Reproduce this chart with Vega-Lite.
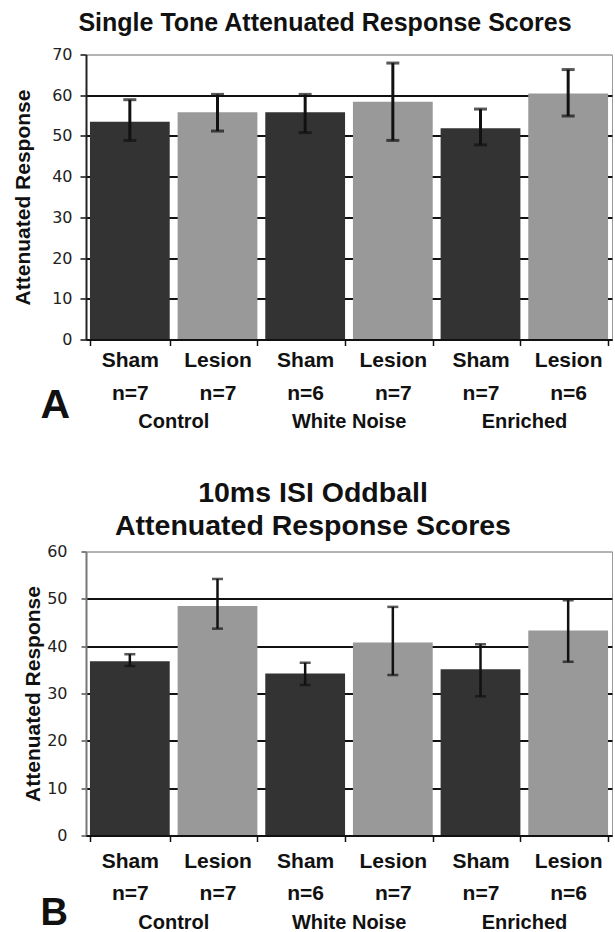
{
  "$schema": "https://vega.github.io/schema/vega-lite/v6.json",
  "padding": {"left": 12, "top": 10.5, "right": 0, "bottom": 0},
  "background": "white",
  "config": {
    "view": {"stroke": "#9a9a9a", "strokeWidth": 1},
    "font": "Liberation Sans"
  },
  "datasets": {
    "a": [
      {"bar": "Control|Sham|n=7", "cond": "Sham", "mean": 53.5, "lo": 48.9, "hi": 58.9},
      {"bar": "Control|Lesion|n=7", "cond": "Lesion", "mean": 55.8, "lo": 51.2, "hi": 60.2},
      {"bar": "White Noise|Sham|n=6", "cond": "Sham", "mean": 55.8, "lo": 50.8, "hi": 60.2},
      {"bar": "White Noise|Lesion|n=7", "cond": "Lesion", "mean": 58.4, "lo": 48.9, "hi": 67.9},
      {"bar": "Enriched|Sham|n=7", "cond": "Sham", "mean": 51.9, "lo": 47.8, "hi": 56.6},
      {"bar": "Enriched|Lesion|n=6", "cond": "Lesion", "mean": 60.4, "lo": 54.9, "hi": 66.3}
    ],
    "b": [
      {"bar": "Control|Sham|n=7", "cond": "Sham", "mean": 36.8, "lo": 35.8, "hi": 38.3},
      {"bar": "Control|Lesion|n=7", "cond": "Lesion", "mean": 48.5, "lo": 43.7, "hi": 54.2},
      {"bar": "White Noise|Sham|n=6", "cond": "Sham", "mean": 34.2, "lo": 31.8, "hi": 36.5},
      {"bar": "White Noise|Lesion|n=7", "cond": "Lesion", "mean": 40.8, "lo": 33.9, "hi": 48.3},
      {"bar": "Enriched|Sham|n=7", "cond": "Sham", "mean": 35.1, "lo": 29.4, "hi": 40.4},
      {"bar": "Enriched|Lesion|n=6", "cond": "Lesion", "mean": 43.3, "lo": 36.7, "hi": 49.7}
    ]
  },
  "spacing": 46,
  "vconcat": [
    {
      "title": {"text": "Single Tone Attenuated Response Scores", "fontSize": 25, "fontWeight": "bold", "color": "#111", "anchor": "middle", "dx": -24, "offset": 10.5},
      "width": 526,
      "height": 285,
      "data": {"name": "a"},
      "layer": [
        {
          "mark": {"type": "bar"},
          "encoding": {
            "x": {"field": "bar", "type": "nominal", "sort": null,
              "scale": {"paddingInner": 0.09, "paddingOuter": 0.045},
              "axis": {"orient": "bottom", "title": null, "labelAngle": 0, "labelExpr": "[split(datum.value,'|')[1], split(datum.value,'|')[2]]",
                "labelFontSize": 21, "labelFontWeight": "bold", "labelColor": "#111", "labelLineHeight": 33,
                "labelPadding": 4, "tickSize": 6, "tickBand": "extent", "tickColor": "#111", "tickWidth": 1.5,
                "domainColor": "#111", "domainWidth": 2, "labelOverlap": false, "labelBound": false, "zindex": 1}},
            "y": {"field": "mean", "type": "quantitative", "scale": {"domain": [0, 70]},
              "axis": {"title": "Attenuated Response", "titleFontSize": 21, "titleFontWeight": "bold", "titleColor": "#111", "titlePadding": 18,
                "values": [0, 10, 20, 30, 40, 50, 60, 70], "labelFont": "DejaVu Sans", "labelFontSize": 16, "labelColor": "#222",
                "tickSize": 6, "labelPadding": 8, "tickColor": "#111", "tickWidth": 1.5, "domainColor": "#222", "domainWidth": 2,
                "grid": true,
                "gridColor": {"condition": {"test": "datum.value === 70", "value": "#9a9a9a"}, "value": "#111"},
                "gridWidth": {"condition": {"test": "datum.value === 70", "value": 1}, "value": 2},
                "zindex": 0}},
            "color": {"field": "cond", "type": "nominal", "scale": {"domain": ["Sham", "Lesion"], "range": ["#333333", "#999999"]}, "legend": null}
          }
        },
        {
          "mark": {"type": "errorbar", "ticks": {"size": 13}, "thickness": 3, "color": "#111"},
          "encoding": {
            "x": {"field": "bar", "type": "nominal", "sort": null,
              "axis": {"orient": "bottom", "title": "A", "titleFontSize": 41, "titleFontWeight": "bold", "titleColor": "#111", "titleAnchor": "start", "titleAlign": "left",
                "titleBaseline": "alphabetic", "titleX": -46, "titleY": 78,
                "labelAngle": 0, "labelExpr": "split(datum.value,'|')[1] === 'Sham' ? split(datum.value,'|')[0] : ''",
                "labelFontSize": 20, "labelFontWeight": "bold", "labelColor": "#111", "labelOffset": 44, "labelPadding": 72,
                "ticks": false, "tickSize": 0, "domain": false, "labelOverlap": false, "labelBound": false, "zindex": 1}},
            "y": {"field": "lo", "type": "quantitative", "title": "Attenuated Response"},
            "y2": {"field": "hi"}
          }
        }
      ],
      "resolve": {"axis": {"x": "independent"}}
    },
    {
      "title": {"text": ["10ms ISI Oddball", "Attenuated Response Scores"], "fontSize": 28.5, "lineHeight": 33, "fontWeight": "bold", "color": "#111", "anchor": "middle", "dx": -36, "offset": 3},
      "width": 526,
      "height": 284,
      "data": {"name": "b"},
      "layer": [
        {
          "mark": {"type": "bar"},
          "encoding": {
            "x": {"field": "bar", "type": "nominal", "sort": null,
              "scale": {"paddingInner": 0.09, "paddingOuter": 0.045},
              "axis": {"orient": "bottom", "title": null, "labelAngle": 0, "labelExpr": "[split(datum.value,'|')[1], split(datum.value,'|')[2]]",
                "labelFontSize": 21, "labelFontWeight": "bold", "labelColor": "#111", "labelLineHeight": 32,
                "labelPadding": 9, "tickSize": 6, "tickBand": "extent", "tickColor": "#111", "tickWidth": 1.5,
                "domainColor": "#111", "domainWidth": 2, "labelOverlap": false, "labelBound": false, "zindex": 1}},
            "y": {"field": "mean", "type": "quantitative", "scale": {"domain": [0, 60]},
              "axis": {"title": "Attenuated Response", "titleFontSize": 21, "titleFontWeight": "bold", "titleColor": "#111", "titlePadding": 3,
                "values": [0, 10, 20, 30, 40, 50, 60], "labelFont": "DejaVu Sans", "labelFontSize": 16, "labelColor": "#222",
                "tickSize": 5, "labelPadding": 14, "tickColor": "#555", "tickWidth": 1.5, "domainColor": "#777", "domainWidth": 2,
                "grid": true,
                "gridColor": {"condition": {"test": "datum.value === 60", "value": "#9a9a9a"}, "value": "#111"},
                "gridWidth": {"condition": {"test": "datum.value === 60", "value": 1}, "value": 2},
                "zindex": 0}},
            "color": {"field": "cond", "type": "nominal", "scale": {"domain": ["Sham", "Lesion"], "range": ["#333333", "#999999"]}, "legend": null}
          }
        },
        {
          "mark": {"type": "errorbar", "ticks": {"size": 11}, "thickness": 2.5, "color": "#111"},
          "encoding": {
            "x": {"field": "bar", "type": "nominal", "sort": null,
              "axis": {"orient": "bottom", "title": "B", "titleFontSize": 38, "titleFontWeight": "bold", "titleColor": "#111", "titleAnchor": "start", "titleAlign": "left",
                "titleBaseline": "alphabetic", "titleX": -46, "titleY": 89,
                "labelAngle": 0, "labelExpr": "split(datum.value,'|')[1] === 'Sham' ? split(datum.value,'|')[0] : ''",
                "labelFontSize": 20, "labelFontWeight": "bold", "labelColor": "#111", "labelOffset": 44, "labelPadding": 77,
                "ticks": false, "tickSize": 0, "domain": false, "labelOverlap": false, "labelBound": false, "zindex": 1}},
            "y": {"field": "lo", "type": "quantitative", "title": "Attenuated Response"},
            "y2": {"field": "hi"}
          }
        }
      ],
      "resolve": {"axis": {"x": "independent"}}
    }
  ]
}
